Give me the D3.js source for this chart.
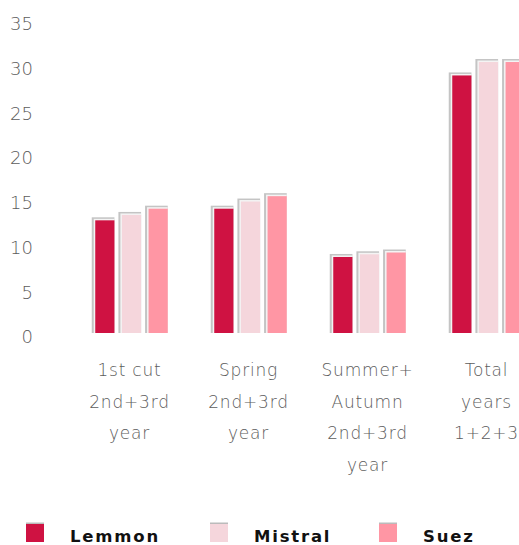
<!DOCTYPE html>
<html>
<head>
<meta charset="utf-8">
<script src="https://cdn.jsdelivr.net/npm/d3@7"></script>
<style>
  html, body { margin: 0; padding: 0; background: #fff; overflow: hidden; }
  svg { display: block; }
</style>
</head>
<body>
<svg id="chart" width="519" height="545"></svg>
<script>
const categories = [
  ["1st cut", "2nd+3rd", "year"],
  ["Spring", "2nd+3rd", "year"],
  ["Summer+", "Autumn", "2nd+3rd", "year"],
  ["Total", "years", "1+2+3"]
];
const seriesNames = ["Lemmon", "Mistral", "Suez"];
const lemmon  = [12.6, 13.9, 8.5, 28.8];
const mistral = [13.2, 14.7, 8.8, 30.3];
const suez    = [13.9, 15.3, 9.0, 30.3];
const yTicks = [0, 5, 10, 15, 20, 25, 30, 35];
const colors = ["#cf1242", "#f5d6dc", "#ff96a4"];

const series = [lemmon, mistral, suez];
const svg = d3.select("#chart");

const y = d3.scaleLinear().domain([0, 35]).range([333, 20]);
const x0 = d3.scaleBand().domain(d3.range(categories.length)).range([70, 546]).paddingInner(0).paddingOuter(0);
const x1 = d3.scaleBand().domain(d3.range(seriesNames.length)).range([0, 72.5]).paddingInner(0.28);
const groupOffset = (x0.bandwidth() - 72.5) / 2 + 2;

// y axis labels
const yAxis = d3.axisLeft(y).tickValues(yTicks).tickSize(0).tickPadding(0);
const yg = svg.append("g").attr("transform", "translate(33,4)").call(yAxis);
yg.select(".domain").remove();
yg.selectAll("text")
  .attr("fill", "#5c5c5c")
  .style("font-family", "'DejaVu Sans', sans-serif")
  .style("font-weight", "300")
  .style("font-size", "18px");

// bars
const groups = svg.append("g").selectAll("g")
  .data(categories.map((c, i) => i))
  .join("g")
  .attr("transform", i => `translate(${x0(i) + groupOffset},0)`);

groups.each(function(ci) {
  const g = d3.select(this);
  series.forEach((s, si) => {
    const fx = x1(si);
    const fw = x1.bandwidth();
    const fy = y(s[ci]);
    const fh = y(0) - fy;
    g.append("rect").attr("x", fx - 3.5).attr("y", fy - 3).attr("width", fw + 3.5).attr("height", fh + 3).attr("fill", "#c4c4c4");
    g.append("rect").attr("x", fx - 1.5).attr("y", fy - 1.5).attr("width", fw + 1.5).attr("height", fh + 1.5).attr("fill", "#f4f4f4");
    g.append("rect").attr("x", fx).attr("y", fy).attr("width", fw).attr("height", fh).attr("fill", colors[si]);
  });
});

// category labels
const xg = svg.append("g");
categories.forEach((lines, i) => {
  const cx = x0(i) + x0.bandwidth() / 2;
  const t = xg.append("text")
    .attr("text-anchor", "middle")
    .attr("fill", "#5c5c5c")
    .style("font-family", "'DejaVu Sans', sans-serif")
    .style("font-weight", "300")
    .style("font-size", "17px")
    .style("letter-spacing", "0.8px");
  lines.forEach((ln, li) => {
    t.append("tspan").attr("x", cx).attr("y", 376 + li * 31.7).text(ln);
  });
});

// legend
const legendX = [26, 210, 379];
const lg = svg.append("g");
seriesNames.forEach((name, i) => {
  lg.append("rect").attr("x", legendX[i]).attr("y", 522.5).attr("width", 18).attr("height", 1.5).attr("fill", "#bbbbbb");
  lg.append("rect").attr("x", legendX[i]).attr("y", 524).attr("width", 18).attr("height", 18).attr("fill", colors[i]);
  lg.append("text")
    .attr("x", legendX[i] + 44)
    .attr("y", 542)
    .attr("fill", "#111")
    .style("font-family", "'DejaVu Sans', sans-serif")
    .style("font-weight", "bold")
    .style("font-size", "16.5px")
    .style("letter-spacing", "1.8px")
    .text(name);
});
</script>
</body>
</html>
